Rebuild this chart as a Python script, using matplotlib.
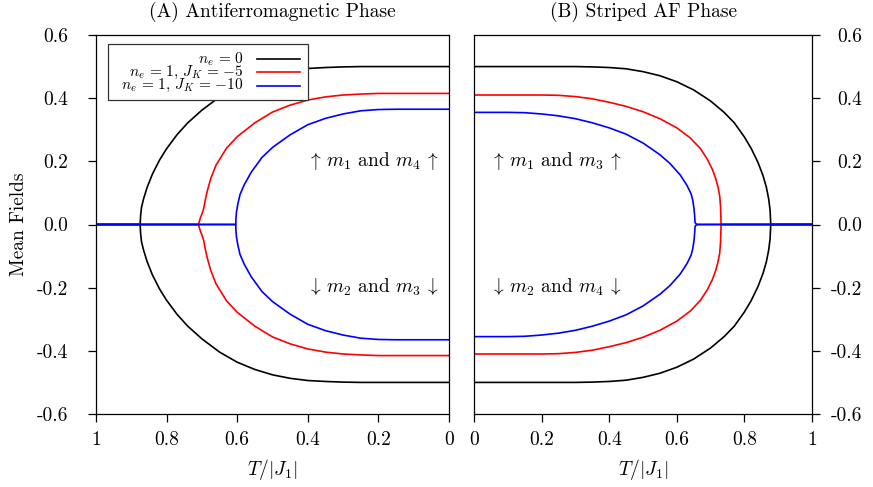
import matplotlib
matplotlib.use('Agg')
from matplotlib import pyplot as plt
from matplotlib.patches import Rectangle
from matplotlib.lines import Line2D

plt.rcParams['font.family'] = 'serif'
plt.rcParams['font.serif'] = ['cmr10']
plt.rcParams['mathtext.fontset'] = 'cm'
plt.rcParams['axes.unicode_minus'] = False

# (A) antiferromagnetic phase: temperature and magnetisation for each case
afm_T_ne0 = [0.0, 0.1, 0.2, 0.25, 0.3, 0.35, 0.4, 0.45, 0.5, 0.55, 0.6, 0.65, 0.7, 0.74, 0.77, 0.8,
             0.82, 0.84, 0.855, 0.865, 0.871, 0.8735, 0.875, 1.0]
afm_m_ne0 = [0.5, 0.5, 0.5, 0.5, 0.499, 0.497, 0.494, 0.487, 0.476, 0.459, 0.436, 0.404, 0.362, 0.322, 0.285, 0.240,
             0.204, 0.160, 0.118, 0.082, 0.055, 0.030, 0.0, 0.0]

afm_T_jk5 = [0.0, 0.1, 0.2, 0.25, 0.3, 0.35, 0.4, 0.45, 0.5, 0.55, 0.6, 0.63, 0.66, 0.675, 0.685,
             0.69, 0.695, 0.700, 0.704, 0.710, 1.0]
afm_m_jk5 = [0.415, 0.415, 0.415, 0.413, 0.410, 0.404, 0.394, 0.378, 0.356, 0.322, 0.278, 0.242, 0.188, 0.145, 0.105,
             0.080, 0.050, 0.033, 0.022, 0.0, 0.0]

afm_T_jk10 = [0.0, 0.1, 0.15, 0.2, 0.25, 0.3, 0.35, 0.4, 0.45, 0.5, 0.53, 0.56, 0.58, 0.592,
              0.598, 0.602, 0.6035, 0.604, 1.0]
afm_m_jk10 = [0.365, 0.365, 0.365, 0.364, 0.360, 0.350, 0.336, 0.316, 0.284, 0.244, 0.212, 0.166, 0.126, 0.095,
              0.066, 0.040, 0.020, 0.0, 0.0]

# (B) striped AF phase
saf_T_ne0 = [0.0, 0.1, 0.2, 0.3, 0.35, 0.4, 0.45, 0.5, 0.55, 0.6, 0.65, 0.7, 0.74, 0.77, 0.8,
             0.82, 0.84, 0.855, 0.865, 0.872, 0.876, 0.878, 1.0]
saf_m_ne0 = [0.5, 0.5, 0.5, 0.5, 0.499, 0.497, 0.493, 0.484, 0.471, 0.452, 0.426, 0.391, 0.355, 0.322, 0.277,
             0.241, 0.197, 0.155, 0.118, 0.080, 0.045, 0.0, 0.0]

saf_T_jk5 = [0.0, 0.1, 0.2, 0.25, 0.3, 0.35, 0.4, 0.45, 0.5, 0.55, 0.6, 0.64, 0.67, 0.69, 0.705,
             0.715, 0.722, 0.727, 0.7295, 0.731, 1.0]
saf_m_jk5 = [0.41, 0.41, 0.41, 0.409, 0.405, 0.398, 0.387, 0.374, 0.357, 0.335, 0.306, 0.274, 0.240, 0.207, 0.175,
             0.146, 0.118, 0.090, 0.055, 0.0, 0.0]

saf_T_jk10 = [0.0, 0.1, 0.15, 0.2, 0.25, 0.3, 0.35, 0.4, 0.45, 0.5, 0.55, 0.58, 0.61, 0.63,
              0.642, 0.647, 0.651, 0.653, 0.654, 0.659, 1.0]
saf_m_jk10 = [0.355, 0.355, 0.354, 0.350, 0.344, 0.335, 0.322, 0.306, 0.286, 0.258, 0.221, 0.193, 0.157, 0.124,
              0.098, 0.078, 0.050, 0.025, 0.006, 0.0, 0.0]

labels = [r'$n_e \,=\, 0$', r'$n_e \,=\, 1,\, J_K \,=\, {-5}$', r'$n_e \,=\, 1,\, J_K \,=\, {-10}$']
colors = ['black', 'red', 'blue']
yticks = [-0.6, -0.4, -0.2, 0.0, 0.2, 0.4, 0.6]
ytick_labels = ['-0.6', '-0.4', '-0.2', '0.0', '0.2', '0.4', '0.6']
xticks = [0, 0.2, 0.4, 0.6, 0.8, 1]
xtick_labels = ['0', '0.2', '0.4', '0.6', '0.8', '1']

fig = plt.figure(figsize=(8.73, 4.87), dpi=100)
ax1 = fig.add_axes([96/873, 1-414/487, 353/873, 379/487])
ax2 = fig.add_axes([474/873, 1-414/487, 338/873, 379/487])

afm = [(afm_T_ne0, afm_m_ne0), (afm_T_jk5, afm_m_jk5), (afm_T_jk10, afm_m_jk10)]
saf = [(saf_T_ne0, saf_m_ne0), (saf_T_jk5, saf_m_jk5), (saf_T_jk10, saf_m_jk10)]

for ax, curves in [(ax1, afm), (ax2, saf)]:
    for (T, m), c in zip(curves, colors):
        ax.plot(T, m, color=c, lw=1.2)
        ax.plot(T, [-v for v in m], color=c, lw=1.2)
    ax.set_ylim(-0.6, 0.6)
    ax.set_yticks(yticks)
    ax.set_yticklabels(ytick_labels)
    ax.set_xticks(xticks)
    ax.set_xticklabels(xtick_labels)
    ax.tick_params(direction='out', length=6, width=0.9, labelsize=14)
    ax.tick_params(axis='x', pad=6)
    ax.set_xlabel(r'$T/|J_1|$', fontsize=14, labelpad=6)
    for s in ax.spines.values():
        s.set_linewidth(0.9)

ax1.set_xlim(1, 0)
ax2.set_xlim(0, 1)
ax1.yaxis.tick_left()
ax1.tick_params(axis='y', pad=14)
# right-hand labels are right aligned, like the left ones
ax2.yaxis.tick_right()
ax2.tick_params(axis='y', pad=30)
for t in ax2.get_yticklabels():
    t.set_horizontalalignment('right')
ax1.set_ylabel('Mean Fields', fontsize=14, labelpad=6)

ax1.set_title('(A) Antiferromagnetic Phase', fontsize=14, pad=13)
ax2.set_title('(B) Striped AF Phase', fontsize=14, pad=13)

ax1.text(0.031, 0.2, r'$\uparrow\, m_1$ and $m_4\, \uparrow$', ha='right', va='center', fontsize=14)
ax1.text(0.031, -0.2, r'$\downarrow\, m_2$ and $m_3\, \downarrow$', ha='right', va='center', fontsize=14)
ax2.text(0.047, 0.2, r'$\uparrow\, m_1$ and $m_3\, \uparrow$', ha='left', va='center', fontsize=14)
ax2.text(0.047, -0.2, r'$\downarrow\, m_2$ and $m_4\, \downarrow$', ha='left', va='center', fontsize=14)

# key box, text on the left and line sample on the right
tr = ax1.transAxes
ax1.add_patch(Rectangle((0.034, 0.8285), 0.5666, 0.1475, transform=tr,
                        facecolor='white', edgecolor='#333333', lw=0.9, zorder=5))
rows = [0.9367, 0.9016, 0.8662]
for lab, c, y in zip(labels, colors, rows):
    ax1.text(0.419, y, lab, transform=tr, ha='right', va='center', fontsize=11, zorder=6)
    ax1.add_line(Line2D([0.456, 0.578], [y, y], transform=tr, color=c, lw=1.2, zorder=6))

fig.savefig('out.png', dpi=100)
